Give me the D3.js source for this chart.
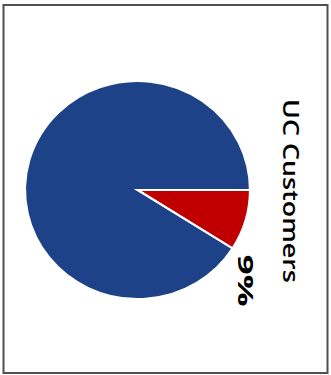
<!DOCTYPE html>
<html>
<head>
<meta charset="utf-8">
<script src="https://cdn.jsdelivr.net/npm/d3@7"></script>
<style>
  html, body { margin: 0; padding: 0; background: #fff; }
  svg { display: block; }
</style>
</head>
<body>
<svg id="chart" width="331" height="375"></svg>
<script>
// Share of customers
const categories = ["UC Customers", "Other"];
const values = [9, 91];
const colors = ["#c00000", "#1d4287"];
const title = "UC Customers";
const sliceLabel = "9%";

const svg = d3.select("#chart");

// frame
svg.append("rect")
  .attr("x", 3.5).attr("y", 5)
  .attr("width", 324).attr("height", 368)
  .attr("fill", "#fff")
  .attr("stroke", "#4f4f4f")
  .attr("stroke-width", 2);

const cx = 137.5, cy = 190, r = 112.5;

// slices start at 3 o'clock and run clockwise
const pie = d3.pie().sort(null).value(d => d)
  .startAngle(Math.PI / 2).endAngle(Math.PI / 2 + 2 * Math.PI);
const arc = d3.arc().innerRadius(0).outerRadius(r);
const arcs = pie(values);

const g = svg.append("g")
  .attr("transform", `translate(${cx},${cy}) scale(1,0.97)`);

g.selectAll("path")
  .data(arcs)
  .join("path")
  .attr("d", arc)
  .attr("fill", (d, i) => colors[i])
  .attr("stroke", "#fff")
  .attr("stroke-width", 2.2)
  .attr("stroke-linejoin", "miter");

// stretched vertical label helper
function vlabel(text, x, y, size, weight, length) {
  const t = svg.append("text")
    .attr("font-family", "'Open Sans', Lato, sans-serif")
    .attr("font-size", size)
    .attr("font-weight", weight)
    .attr("fill", "#000")
    .text(text);
  const w = t.node().getComputedTextLength();
  const sx = length / w;
  t.attr("transform", `translate(${x},${y}) rotate(90) scale(${sx},1)`);
  return t;
}

// title, running down the right side
vlabel(title, 282.5, 99, 21, 600, 184);

// value label at the outer tip of the red slice
const tip = arcs[0];
const tipAngle = tip.endAngle;
const tx = cx + Math.sin(tipAngle) * r;
const ty = cy - Math.cos(tipAngle) * r * 0.97;
vlabel(sliceLabel, tx + 6, ty + 6, 22, 700, 52);
</script>
</body>
</html>
